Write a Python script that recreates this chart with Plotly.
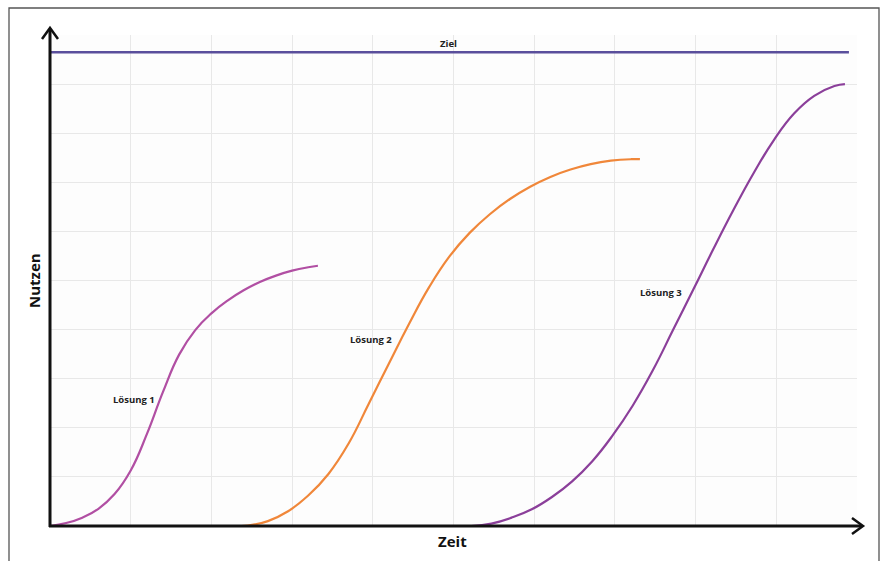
import plotly.graph_objects as go

# ---- data (x = Zeit, y = Nutzen, grid units) ----
loesung1_x = [0.00, 0.20, 0.40, 0.60, 0.80, 1.00, 1.20, 1.40, 1.60, 1.80, 2.00, 2.20, 2.40, 2.60, 2.80, 3.00, 3.20, 3.32]
loesung1_y = [0.00, 0.06, 0.17, 0.35, 0.65, 1.13, 1.87, 2.73, 3.49, 3.99, 4.33, 4.59, 4.80, 4.97, 5.10, 5.20, 5.27, 5.30]

loesung2_x = [2.17, 2.45, 2.70, 2.95, 3.20, 3.45, 3.70, 3.95, 4.20, 4.45, 4.70, 4.95, 5.20, 5.45, 5.70, 5.95, 6.20, 6.45, 6.70, 6.95, 7.20, 7.31]
loesung2_y = [0.00, 0.01, 0.10, 0.30, 0.62, 1.06, 1.68, 2.49, 3.31, 4.12, 4.87, 5.49, 5.97, 6.35, 6.66, 6.91, 7.11, 7.26, 7.37, 7.44, 7.47, 7.47]

loesung3_x = [5.22, 5.47, 5.72, 5.97, 6.22, 6.47, 6.72, 6.97, 7.22, 7.47, 7.72, 7.97, 8.22, 8.47, 8.72, 8.97, 9.22, 9.47, 9.72, 9.85]
loesung3_y = [0.00, 0.05, 0.17, 0.34, 0.59, 0.91, 1.32, 1.84, 2.45, 3.17, 3.99, 4.81, 5.64, 6.44, 7.19, 7.86, 8.40, 8.76, 8.96, 9.00]

ziel_x = [0.0, 9.9]
ziel_y = [9.65, 9.65]

series_names = ["Lösung 1", "Lösung 2", "Lösung 3"]
label_x = [1.04, 3.98, 7.57]
label_y = [2.57, 3.79, 4.75]
ziel_label = "Ziel"
ziel_label_pos = (4.94, 9.82)
x_title = "Zeit"
y_title = "Nutzen"

# ---- layout constants ----
W, H = 885, 561
ML, MR, MT, MB = 50, 28, 35, 35
PW, PH = W - ML - MR, H - MT - MB


def px(xpix):
    return (xpix - ML) / PW


def py(ypix):
    return (H - MB - ypix) / PH


colors = ["#b14fa3", "#f0873a", "#8b3f9a"]
ziel_color = "#5a4f9c"
FONT = "Open Sans, DejaVu Sans, sans-serif"
label_font = dict(family=FONT, size=9.5, color="#222222", weight=700)

fig = go.Figure()
for xs, ys, c, n in zip([loesung1_x, loesung2_x, loesung3_x],
                        [loesung1_y, loesung2_y, loesung3_y], colors, series_names):
    fig.add_trace(go.Scatter(x=xs, y=ys, mode="lines", name=n,
                             line=dict(color=c, width=2.2, shape="spline", smoothing=1.3),
                             hoverinfo="skip", showlegend=False))
fig.add_trace(go.Scatter(x=ziel_x, y=ziel_y, mode="lines", name=ziel_label,
                         line=dict(color=ziel_color, width=2.5), showlegend=False))

annotations = []
for n, lx, ly in zip(series_names, label_x, label_y):
    annotations.append(dict(x=lx, y=ly, xref="x", yref="y", text=n, showarrow=False,
                            font=label_font))
annotations.append(dict(x=ziel_label_pos[0], y=ziel_label_pos[1], xref="x", yref="y",
                        text=ziel_label, showarrow=False, font=label_font))
annotations.append(dict(x=px(452), y=py(541), xref="paper", yref="paper", text=x_title,
                        showarrow=False, xanchor="center", yanchor="middle",
                        font=dict(family=FONT, size=15, color="#111111", weight=700)))
annotations.append(dict(x=px(34), y=py(281), xref="paper", yref="paper", text=y_title,
                        showarrow=False, textangle=-90, xanchor="center", yanchor="middle",
                        font=dict(family=FONT, size=15, color="#111111", weight=700)))

axis_col = "#111111"
shapes = [
    # outer frame
    dict(type="rect", xref="paper", yref="paper", x0=px(9), x1=px(879), y0=py(566), y1=py(8),
         line=dict(color="#555555", width=1.3), fillcolor="rgba(0,0,0,0)", layer="below"),
    # y axis + arrow
    dict(type="line", xref="paper", yref="paper", x0=px(50), x1=px(50), y0=py(527), y1=py(29),
         line=dict(color=axis_col, width=3)),
    dict(type="path", xref="paper", yref="paper",
         path=f"M {px(42)},{py(39)} L {px(50)},{py(28)} L {px(58)},{py(39)}",
         line=dict(color=axis_col, width=2.5)),
    # x axis + arrow
    dict(type="line", xref="paper", yref="paper", x0=px(49), x1=px(862), y0=py(526), y1=py(526),
         line=dict(color=axis_col, width=3)),
    dict(type="path", xref="paper", yref="paper",
         path=f"M {px(852)},{py(518)} L {px(863)},{py(526)} L {px(852)},{py(534)}",
         line=dict(color=axis_col, width=2.5)),
]

fig.update_layout(
    width=W, height=H,
    margin=dict(l=ML, r=MR, t=MT, b=MB),
    paper_bgcolor="#ffffff",
    plot_bgcolor="#fdfdfd",
    shapes=shapes,
    annotations=annotations,
    showlegend=False,
)
fig.update_xaxes(range=[0, 10], dtick=1, showgrid=True, gridcolor="#e8e8e8", gridwidth=1,
                 showticklabels=False, ticks="", zeroline=False, showline=False, fixedrange=True)
fig.update_yaxes(range=[0, 10], dtick=1, showgrid=True, gridcolor="#e8e8e8", gridwidth=1,
                 showticklabels=False, ticks="", zeroline=False, showline=False, fixedrange=True)

fig.write_html(
    "out.html",
    config={"displayModeBar": False},
    post_script="document.body.style.margin='0';document.body.style.overflow='hidden';",
)
